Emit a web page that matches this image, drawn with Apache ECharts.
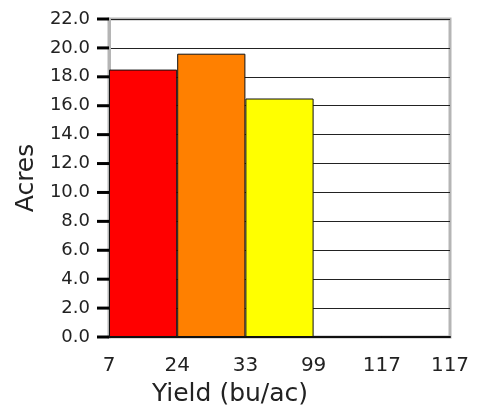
<!DOCTYPE html>
<html>
<head>
<meta charset="utf-8">
<script src="https://cdn.jsdelivr.net/npm/echarts@6/dist/echarts.min.js"></script>
<style>
  html, body { margin: 0; padding: 0; background: #fff; }
  #chart { width: 489px; height: 412px; }
</style>
</head>
<body>
<div id="chart"></div>
<script>
const bins = ["7-24", "24-33", "33-99", "99-117", "117-117"];
const edgeLabels = ["7", "24", "33", "99", "117", "117"];
const acres = [18.5, 19.6, 16.5, 0, 0];
const barColors = ["#ff0000", "#ff8000", "#ffff00", "#00c000", "#0000ff"];

const font = "DejaVu Sans";
const chart = echarts.init(document.getElementById("chart"));

chart.setOption({
  animation: false,
  grid: {
    left: 109,
    right: 39,
    top: 19,
    bottom: 75,
    show: true,
    borderColor: "#b5b5b5",
    borderWidth: 3,
  },
  xAxis: [
    {
      type: "category",
      data: bins,
      axisLine: { show: true, onZero: false, lineStyle: { color: "#111", width: 2 } },
      axisTick: { show: false },
      axisLabel: { show: false },
      name: "Yield (bu/ac)",
      nameLocation: "middle",
      nameGap: 45,
      nameTextStyle: {
        fontFamily: font,
        fontSize: 25,
        color: "#222",
        padding: [0, 99, 0, 0],
      },
    },
    {
      type: "value",
      position: "bottom",
      min: 0,
      max: 5,
      interval: 1,
      axisLine: { show: false, onZero: false },
      axisTick: { show: false },
      splitLine: { show: false },
      axisLabel: {
        margin: 19,
        fontFamily: font,
        fontSize: 20,
        color: "#222",
        formatter: (v) => edgeLabels[Math.round(v)],
      },
    },
  ],
  yAxis: {
    type: "value",
    position: "left",
    min: 0,
    max: 22,
    interval: 2,
    axisLine: { show: true, onZero: false, lineStyle: { color: "#b5b5b5", width: 3 } },
    axisTick: { show: false },
    axisLabel: {
      margin: 0,
      fontFamily: font,
      fontSize: 18,
      color: "#222",
      // tick mark drawn as a small black block after the value
      formatter: (v) => "{v|" + v.toFixed(1) + "}{t| }",
      rich: {
        v: { fontFamily: font, fontSize: 18, color: "#222", padding: [0, 7, 0, 0] },
        t: { width: 12, height: 3, lineHeight: 3, fontSize: 2, backgroundColor: "#000" },
      },
    },
    splitLine: { lineStyle: { color: "#222", width: 1 } },
    name: "Acres",
    nameLocation: "middle",
    nameGap: 68,
    nameTextStyle: { fontFamily: font, fontSize: 25, color: "#222" },
  },
  series: [
    {
      type: "bar",
      xAxisIndex: 0,
      barCategoryGap: "0%",
      data: acres.map((v, i) => ({
        value: v,
        itemStyle: { color: barColors[i] },
      })),
      itemStyle: { borderColor: "#111", borderWidth: 1 },
    },
  ],
});
</script>
</body>
</html>
